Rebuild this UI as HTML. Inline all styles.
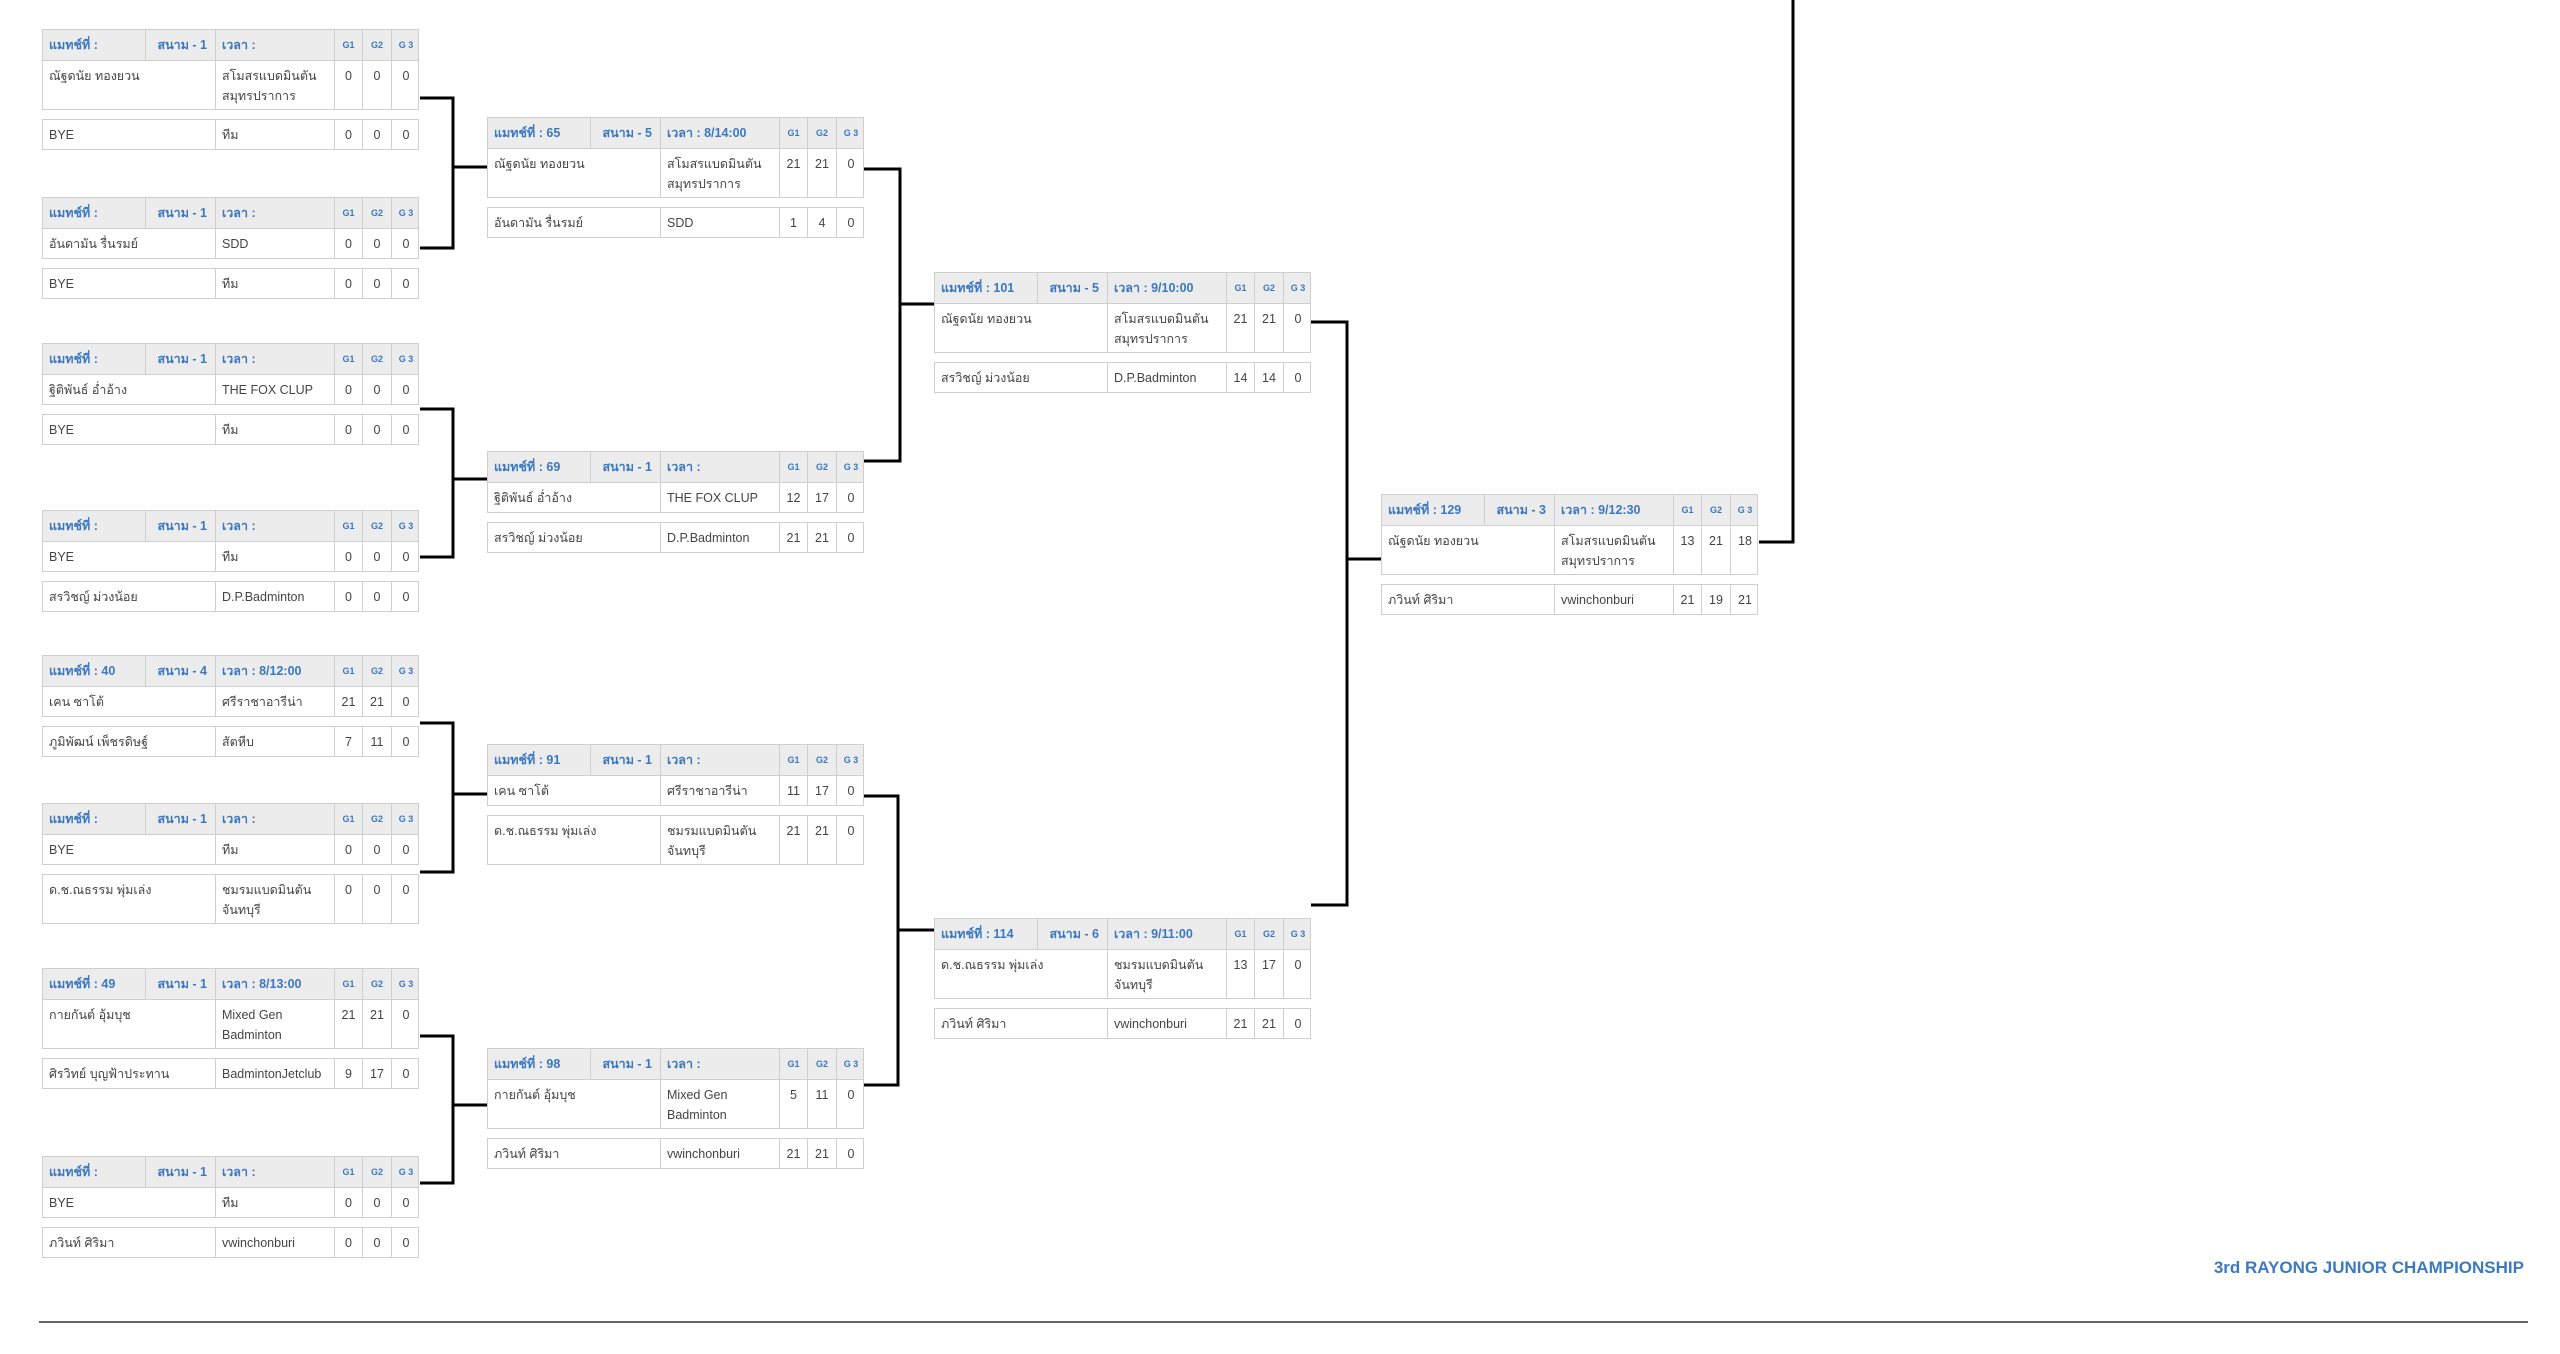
<!DOCTYPE html>
<html><head><meta charset="utf-8">
<style>
*{box-sizing:border-box;margin:0;padding:0}
body{width:2560px;height:1354px;background:#fff;position:relative;overflow:hidden;font-family:"Liberation Sans","DejaVu Sans",sans-serif;color:#444;font-size:12.5px}
.m{position:absolute;width:377px}
.h,.r{display:grid;grid-template-columns:102px 70px 119px 28px 29px 29px;border:1px solid #cfcfcf}
.r{grid-template-columns:172px 119px 28px 29px 29px;background:#fff}
.h{height:32px;background:#ececec;color:#3b78bf;font-weight:bold}
.h span{padding:0 6px;line-height:30px;border-left:1px solid #cfcfcf}
.h span:first-child{border-left:none}
.h .c{text-align:right;padding-right:8px}
.h .g{font-size:9px;text-align:center;padding:0}
.r1{border-top:none;height:30px}
.r2{margin-top:9px;height:31px}
.t{height:49px}
.r2.t{height:50px}
.r span{padding:0 6px;line-height:20px;padding-top:5px;border-left:1px solid #cfcfcf}
.r span:first-child{border-left:none}
.r .s{text-align:center;padding-left:0;padding-right:0}
svg{position:absolute;left:0;top:0}
.title{position:absolute;right:36px;top:1258px;font-size:17px;font-weight:bold;color:#3b7abf}
.line{position:absolute;left:39px;top:1321px;width:2489px;height:2px;background:#666}
</style></head><body>
<svg width="2560" height="1354" fill="none" stroke="#000" stroke-width="3">
<polyline points="420,98 453,98 453,248 420,248"/><line x1="453" y1="167" x2="487" y2="167"/>
<polyline points="420,409 453,409 453,557 420,557"/><line x1="453" y1="479" x2="487" y2="479"/>
<polyline points="420,723 453,723 453,872 420,872"/><line x1="453" y1="794" x2="487" y2="794"/>
<polyline points="420,1036 453,1036 453,1183 420,1183"/><line x1="453" y1="1105" x2="487" y2="1105"/>
<polyline points="864,169 900,169 900,461 864,461"/><line x1="900" y1="304" x2="934" y2="304"/>
<polyline points="864,796 898,796 898,1085 864,1085"/><line x1="898" y1="930" x2="934" y2="930"/>
<polyline points="1311,322 1347,322 1347,905 1311,905"/><line x1="1347" y1="559" x2="1381" y2="559"/>
<polyline points="1759,542 1793,542 1793,0"/>
</svg>

<!-- Column 1 -->
<div class="m" style="left:42px;top:29px"><div class="h"><span>แมทช์ที่ :</span><span class="c">สนาม - 1</span><span>เวลา :</span><span class="g">G1</span><span class="g">G2</span><span class="g">G 3</span></div>
<div class="r r1 t"><span>ณัฐดนัย ทองยวน</span><span>สโมสรแบดมินตัน สมุทรปราการ</span><span class="s">0</span><span class="s">0</span><span class="s">0</span></div>
<div class="r r2"><span>BYE</span><span>ทีม</span><span class="s">0</span><span class="s">0</span><span class="s">0</span></div></div>

<div class="m" style="left:42px;top:197px"><div class="h"><span>แมทช์ที่ :</span><span class="c">สนาม - 1</span><span>เวลา :</span><span class="g">G1</span><span class="g">G2</span><span class="g">G 3</span></div>
<div class="r r1"><span>อันดามัน รื่นรมย์</span><span>SDD</span><span class="s">0</span><span class="s">0</span><span class="s">0</span></div>
<div class="r r2"><span>BYE</span><span>ทีม</span><span class="s">0</span><span class="s">0</span><span class="s">0</span></div></div>

<div class="m" style="left:42px;top:343px"><div class="h"><span>แมทช์ที่ :</span><span class="c">สนาม - 1</span><span>เวลา :</span><span class="g">G1</span><span class="g">G2</span><span class="g">G 3</span></div>
<div class="r r1"><span>ฐิติพันธ์ อ่ำอ้าง</span><span>THE FOX CLUP</span><span class="s">0</span><span class="s">0</span><span class="s">0</span></div>
<div class="r r2"><span>BYE</span><span>ทีม</span><span class="s">0</span><span class="s">0</span><span class="s">0</span></div></div>

<div class="m" style="left:42px;top:510px"><div class="h"><span>แมทช์ที่ :</span><span class="c">สนาม - 1</span><span>เวลา :</span><span class="g">G1</span><span class="g">G2</span><span class="g">G 3</span></div>
<div class="r r1"><span>BYE</span><span>ทีม</span><span class="s">0</span><span class="s">0</span><span class="s">0</span></div>
<div class="r r2"><span>สรวิชญ์ ม่วงน้อย</span><span>D.P.Badminton</span><span class="s">0</span><span class="s">0</span><span class="s">0</span></div></div>

<div class="m" style="left:42px;top:655px"><div class="h"><span>แมทช์ที่ : 40</span><span class="c">สนาม - 4</span><span>เวลา : 8/12:00</span><span class="g">G1</span><span class="g">G2</span><span class="g">G 3</span></div>
<div class="r r1"><span>เคน ซาโต้</span><span>ศรีราชาอารีน่า</span><span class="s">21</span><span class="s">21</span><span class="s">0</span></div>
<div class="r r2"><span>ภูมิพัฒน์ เพ็ชรดิษฐ์</span><span>สัตหีบ</span><span class="s">7</span><span class="s">11</span><span class="s">0</span></div></div>

<div class="m" style="left:42px;top:803px"><div class="h"><span>แมทช์ที่ :</span><span class="c">สนาม - 1</span><span>เวลา :</span><span class="g">G1</span><span class="g">G2</span><span class="g">G 3</span></div>
<div class="r r1"><span>BYE</span><span>ทีม</span><span class="s">0</span><span class="s">0</span><span class="s">0</span></div>
<div class="r r2 t"><span>ด.ช.ณธรรม พุ่มเล่ง</span><span>ชมรมแบดมินตัน จันทบุรี</span><span class="s">0</span><span class="s">0</span><span class="s">0</span></div></div>

<div class="m" style="left:42px;top:968px"><div class="h"><span>แมทช์ที่ : 49</span><span class="c">สนาม - 1</span><span>เวลา : 8/13:00</span><span class="g">G1</span><span class="g">G2</span><span class="g">G 3</span></div>
<div class="r r1 t"><span>กายกันต์ อุ้มบุช</span><span>Mixed Gen Badminton</span><span class="s">21</span><span class="s">21</span><span class="s">0</span></div>
<div class="r r2"><span>ศิรวิทย์ บุญฟ้าประทาน</span><span>BadmintonJetclub</span><span class="s">9</span><span class="s">17</span><span class="s">0</span></div></div>

<div class="m" style="left:42px;top:1156px"><div class="h"><span>แมทช์ที่ :</span><span class="c">สนาม - 1</span><span>เวลา :</span><span class="g">G1</span><span class="g">G2</span><span class="g">G 3</span></div>
<div class="r r1"><span>BYE</span><span>ทีม</span><span class="s">0</span><span class="s">0</span><span class="s">0</span></div>
<div class="r r2"><span>ภวินท์ ศิริมา</span><span>vwinchonburi</span><span class="s">0</span><span class="s">0</span><span class="s">0</span></div></div>

<!-- Column 2 -->
<div class="m" style="left:487px;top:117px"><div class="h"><span>แมทช์ที่ : 65</span><span class="c">สนาม - 5</span><span>เวลา : 8/14:00</span><span class="g">G1</span><span class="g">G2</span><span class="g">G 3</span></div>
<div class="r r1 t"><span>ณัฐดนัย ทองยวน</span><span>สโมสรแบดมินตัน สมุทรปราการ</span><span class="s">21</span><span class="s">21</span><span class="s">0</span></div>
<div class="r r2"><span>อันดามัน รื่นรมย์</span><span>SDD</span><span class="s">1</span><span class="s">4</span><span class="s">0</span></div></div>

<div class="m" style="left:487px;top:451px"><div class="h"><span>แมทช์ที่ : 69</span><span class="c">สนาม - 1</span><span>เวลา :</span><span class="g">G1</span><span class="g">G2</span><span class="g">G 3</span></div>
<div class="r r1"><span>ฐิติพันธ์ อ่ำอ้าง</span><span>THE FOX CLUP</span><span class="s">12</span><span class="s">17</span><span class="s">0</span></div>
<div class="r r2"><span>สรวิชญ์ ม่วงน้อย</span><span>D.P.Badminton</span><span class="s">21</span><span class="s">21</span><span class="s">0</span></div></div>

<div class="m" style="left:487px;top:744px"><div class="h"><span>แมทช์ที่ : 91</span><span class="c">สนาม - 1</span><span>เวลา :</span><span class="g">G1</span><span class="g">G2</span><span class="g">G 3</span></div>
<div class="r r1"><span>เคน ซาโต้</span><span>ศรีราชาอารีน่า</span><span class="s">11</span><span class="s">17</span><span class="s">0</span></div>
<div class="r r2 t"><span>ด.ช.ณธรรม พุ่มเล่ง</span><span>ชมรมแบดมินตัน จันทบุรี</span><span class="s">21</span><span class="s">21</span><span class="s">0</span></div></div>

<div class="m" style="left:487px;top:1048px"><div class="h"><span>แมทช์ที่ : 98</span><span class="c">สนาม - 1</span><span>เวลา :</span><span class="g">G1</span><span class="g">G2</span><span class="g">G 3</span></div>
<div class="r r1 t"><span>กายกันต์ อุ้มบุช</span><span>Mixed Gen Badminton</span><span class="s">5</span><span class="s">11</span><span class="s">0</span></div>
<div class="r r2"><span>ภวินท์ ศิริมา</span><span>vwinchonburi</span><span class="s">21</span><span class="s">21</span><span class="s">0</span></div></div>

<!-- Column 3 -->
<div class="m" style="left:934px;top:272px"><div class="h"><span>แมทช์ที่ : 101</span><span class="c">สนาม - 5</span><span>เวลา : 9/10:00</span><span class="g">G1</span><span class="g">G2</span><span class="g">G 3</span></div>
<div class="r r1 t"><span>ณัฐดนัย ทองยวน</span><span>สโมสรแบดมินตัน สมุทรปราการ</span><span class="s">21</span><span class="s">21</span><span class="s">0</span></div>
<div class="r r2"><span>สรวิชญ์ ม่วงน้อย</span><span>D.P.Badminton</span><span class="s">14</span><span class="s">14</span><span class="s">0</span></div></div>

<div class="m" style="left:934px;top:918px"><div class="h"><span>แมทช์ที่ : 114</span><span class="c">สนาม - 6</span><span>เวลา : 9/11:00</span><span class="g">G1</span><span class="g">G2</span><span class="g">G 3</span></div>
<div class="r r1 t"><span>ด.ช.ณธรรม พุ่มเล่ง</span><span>ชมรมแบดมินตัน จันทบุรี</span><span class="s">13</span><span class="s">17</span><span class="s">0</span></div>
<div class="r r2"><span>ภวินท์ ศิริมา</span><span>vwinchonburi</span><span class="s">21</span><span class="s">21</span><span class="s">0</span></div></div>

<!-- Column 4 -->
<div class="m" style="left:1381px;top:494px"><div class="h"><span>แมทช์ที่ : 129</span><span class="c">สนาม - 3</span><span>เวลา : 9/12:30</span><span class="g">G1</span><span class="g">G2</span><span class="g">G 3</span></div>
<div class="r r1 t"><span>ณัฐดนัย ทองยวน</span><span>สโมสรแบดมินตัน สมุทรปราการ</span><span class="s">13</span><span class="s">21</span><span class="s">18</span></div>
<div class="r r2"><span>ภวินท์ ศิริมา</span><span>vwinchonburi</span><span class="s">21</span><span class="s">19</span><span class="s">21</span></div></div>

<div class="title">3rd RAYONG JUNIOR CHAMPIONSHIP</div>
<div class="line"></div>
</body></html>
